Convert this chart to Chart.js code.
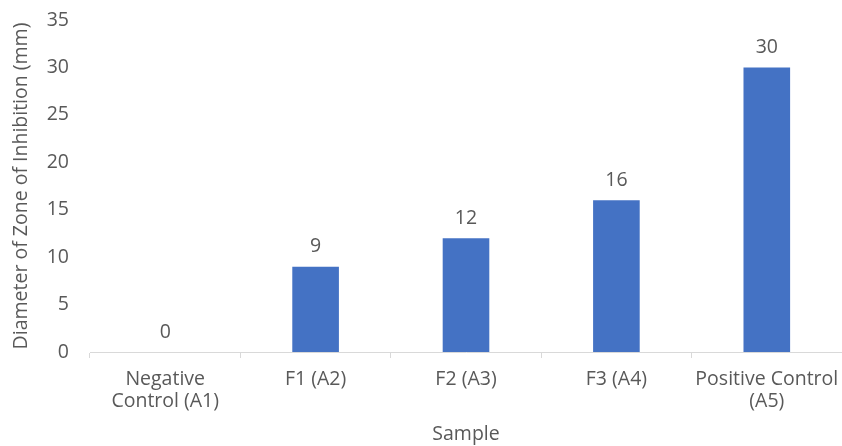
<!DOCTYPE html>
<html>
<head>
<meta charset="utf-8">
<script src="https://cdn.jsdelivr.net/npm/chart.js@4/dist/chart.umd.min.js"></script>
<style>
  html, body { margin: 0; padding: 0; background: #fff; }
  #wrap { width: 842px; height: 446px; }
</style>
</head>
<body>
<div id="wrap"><canvas id="chart1"></canvas></div>
<script>
var categories = [['Negative', 'Control (A1)'], 'F1 (A2)', 'F2 (A3)', 'F3 (A4)', ['Positive Control', '(A5)']];
var zoneDiameter = [0, 9, 12, 16, 30];
var yTicks = [0, 5, 10, 15, 20, 25, 30, 35];

var textColor = '#595959';
var fontFamily = "'Open Sans', 'Noto Sans', sans-serif";
var fontSize = 19.5;

// draws the value above each bar
var valueLabels = {
    id: 'valueLabels',
    afterDatasetsDraw: function(chart) {
        var ctx = chart.ctx;
        var meta = chart.getDatasetMeta(0);
        ctx.save();
        ctx.fillStyle = textColor;
        ctx.font = fontSize + 'px ' + fontFamily;
        ctx.textAlign = 'center';
        ctx.textBaseline = 'bottom';
        meta.data.forEach(function(bar, i) {
            ctx.fillText(String(zoneDiameter[i]), bar.x, bar.y - 10);
        });
        ctx.restore();
    }
};

var ctx = document.getElementById('chart1').getContext('2d');
var myChart = new Chart(ctx, {
    type: 'bar',
    data: {
        labels: categories,
        datasets: [{
            label: 'Diameter',
            data: zoneDiameter,
            backgroundColor: '#4472C4',
            borderWidth: 0,
            categoryPercentage: 1,
            barPercentage: 0.31
        }]
    },
    options: {
        responsive: true,
        maintainAspectRatio: false,
        animation: false,
        layout: { padding: { top: 20, right: 0, left: 10, bottom: 0 } },
        plugins: {
            legend: { display: false },
            tooltip: { enabled: false }
        },
        scales: {
            x: {
                grid: {
                    display: true,
                    drawOnChartArea: false,
                    drawTicks: true,
                    tickLength: 6,
                    color: '#d9d9d9',
                    offset: true
                },
                border: { display: true, color: '#d9d9d9', width: 1 },
                ticks: {
                    color: textColor,
                    font: { family: fontFamily, size: fontSize, lineHeight: 1.15 },
                    maxRotation: 0,
                    autoSkip: false,
                    padding: 10
                },
                title: {
                    display: true,
                    text: 'Sample',
                    color: textColor,
                    font: { family: fontFamily, size: fontSize },
                    padding: { top: 6, bottom: 0 }
                },
                afterFit: function(scale) {
                    scale.height = 94;
                    scale.paddingRight = 0;
                }
            },
            y: {
                min: 0,
                max: 35,
                grid: { display: false },
                border: { display: false },
                afterBuildTicks: function(scale) {
                    scale.ticks = yTicks.map(function(v) { return { value: v }; });
                },
                ticks: {
                    color: textColor,
                    font: { family: fontFamily, size: fontSize },
                    padding: 13
                },
                title: {
                    display: true,
                    text: 'Diameter of Zone of Inhibition (mm)',
                    color: textColor,
                    font: { family: fontFamily, size: fontSize },
                    padding: { top: 0, bottom: 0 }
                },
                afterFit: function(scale) {
                    scale.width = 80;
                    scale.paddingTop = 0;
                    scale.paddingBottom = 0;
                }
            }
        }
    },
    plugins: [valueLabels]
});
</script>
</body>
</html>
